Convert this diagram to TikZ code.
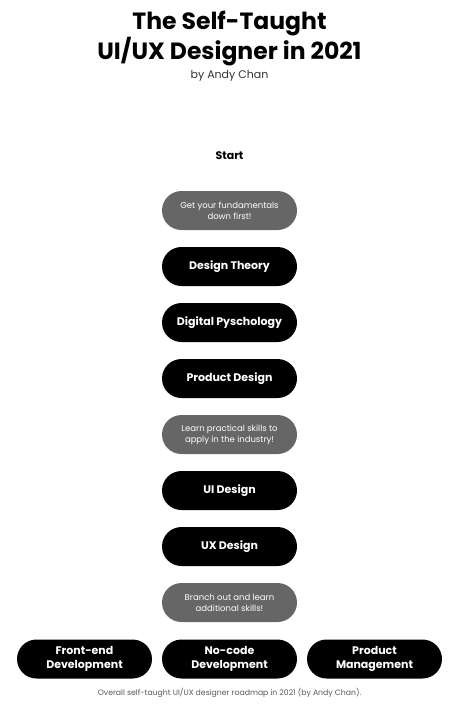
\documentclass[tikz,border=0pt]{standalone}
\usepackage{fontspec}
\setmainfont{Poppins}
\colorlet{pillgray}{black!60}
\colorlet{captiongray}{black!65}
\usetikzlibrary{positioning}
\tikzstyle{pill}=[fill=black,text=white,rounded corners=19.5pt,
  minimum width=135pt,minimum height=39pt,inner sep=0pt,align=center,
  font=\fontsize{11}{14.5}\selectfont\bfseries]
\tikzstyle{hint}=[pill,fill=pillgray,font=\fontsize{8.5}{11}\selectfont]

\begin{document}
\begin{tikzpicture}[x=1pt, y=1pt, on grid, node distance=56pt]
  \useasboundingbox (0,0) rectangle (456,-707);
  \node[align=center, font=\fontsize{23.5}{28}\selectfont\bfseries]
    (title) at (229.5,-38.5) {The Self-Taught\\UI/UX Designer in 2021};
  \node[font=\fontsize{11}{13}\selectfont, text=black!80]
    (author) at (229.5,-76) {by Andy Chan};
  \node[font=\fontsize{11}{13}\selectfont\bfseries]
    (start) at (229.5,-156) {Start};

  \node[hint] (fund) at (229.5,-210.5) {Get your fundamentals\\down first!};
  \node[pill, below=of fund]     (theory)  {Design Theory};
  \node[pill, below=of theory]   (psych)   {Digital Pyschology};
  \node[pill, below=of psych]    (product) {Product Design};
  \node[hint, below=of product]  (skills)  {Learn practical skills to\\apply in the industry!};
  \node[pill, below=of skills]   (ui)      {UI Design};
  \node[pill, below=of ui]       (ux)      {UX Design};
  \node[hint, below=of ux]       (branch)  {Branch out and learn\\additional skills!};
  \node[pill, below=56.5pt of branch] (nocode)   {No-code\\Development};
  \node[pill, left=145pt of nocode]   (frontend) {Front-end\\Development};
  \node[pill, right=145pt of nocode]  (pm)       {Product\\Management};

  \node[font=\fontsize{7.75}{9}\selectfont, text=captiongray]
    (caption) at (229.5,-693) {Overall self-taught UI/UX designer roadmap in 2021 (by Andy Chan).};
\end{tikzpicture}
\end{document}
